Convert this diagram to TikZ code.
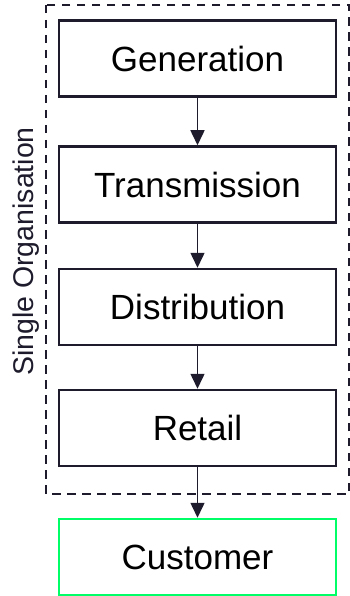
\documentclass[tikz,border=0pt]{standalone}
\usepackage{fontspec}
\setmainfont{Liberation Sans}
\usetikzlibrary{arrows.meta}
\definecolor{ink}{HTML}{1E1C2C}
\definecolor{custgreen}{HTML}{00FF66}
\begin{document}
\begin{tikzpicture}[x=1pt,y=-1pt,
  stage/.style={draw=ink, line width=2.5pt, minimum width=277pt, minimum height=76pt,
    inner sep=0pt, text=black, font=\fontsize{35}{40}\selectfont},
  flow/.style={draw=ink, line width=1.5pt, -{Triangle[length=15pt,width=14pt]}}]
  \useasboundingbox (0,0) rectangle (350,596);
  % organisation boundary
  \draw[ink, line width=2pt, dash pattern=on 8.5pt off 6.5pt] (46,5) rectangle (349,494);
  \node[text=ink, font=\fontsize{28.5}{32}\selectfont, rotate=90, anchor=base] (org) at (33,251.5) {Single Organisation};
  % supply chain stages
  \node[stage] (gen) at (197.5,58.5) {Generation};
  \node[stage] (trans) at (197.5,184.5) {Transmission};
  \node[stage] (dist) at (197.5,307) {Distribution};
  \node[stage] (ret) at (197.5,428) {Retail};
  \node[stage, draw=custgreen] (cust) at (197.5,557) {Customer};
  \draw[flow] (gen) -- (trans);
  \draw[flow] (trans) -- (dist);
  \draw[flow] (dist) -- (ret);
  \draw[flow] (ret) -- (cust);
\end{tikzpicture}
\end{document}
